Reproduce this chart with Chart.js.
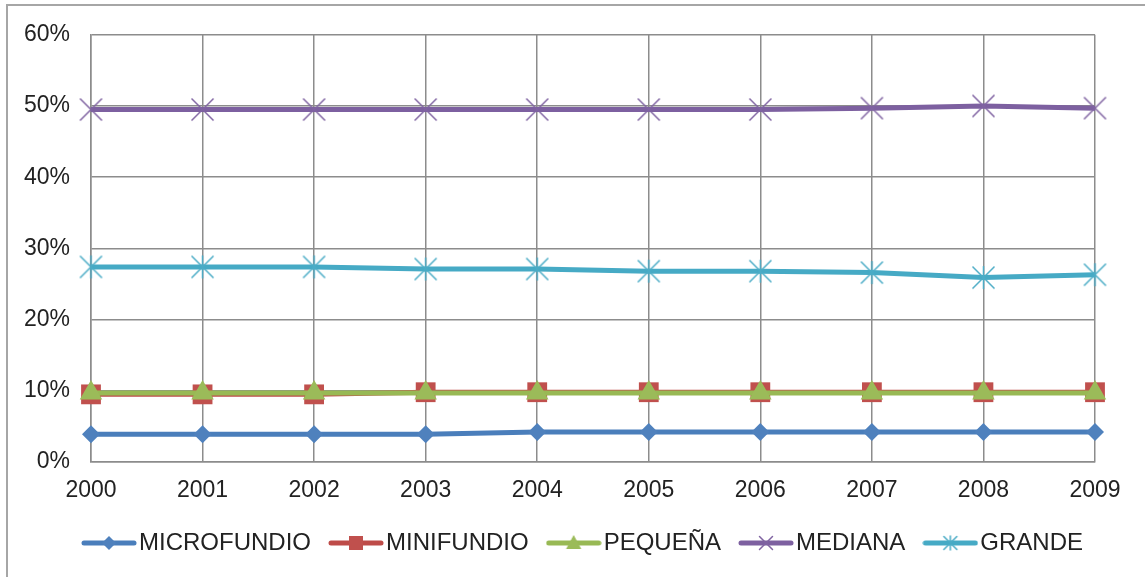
<!DOCTYPE html>
<html>
<head>
<meta charset="utf-8">
<script src="https://cdn.jsdelivr.net/npm/chart.js@4/dist/chart.umd.min.js"></script>
<style>
html,body{margin:0;padding:0;background:#fff;overflow:hidden}
canvas{display:block}
</style>
</head>
<body>
<canvas id="c" width="1145" height="577"></canvas>
<script>
// ---- data ----
const categories = ['2000','2001','2002','2003','2004','2005','2006','2007','2008','2009'];
const microfundio = [3.9, 3.9, 3.9, 3.9, 4.2, 4.2, 4.2, 4.2, 4.2, 4.2];
const minifundio  = [9.5, 9.5, 9.5, 9.8, 9.8, 9.8, 9.8, 9.8, 9.8, 9.8];
const pequena     = [9.7, 9.7, 9.7, 9.7, 9.7, 9.7, 9.7, 9.7, 9.7, 9.7];
const mediana     = [49.5, 49.5, 49.5, 49.5, 49.5, 49.5, 49.5, 49.7, 50.0, 49.7];
const grande      = [27.4, 27.4, 27.4, 27.1, 27.1, 26.8, 26.8, 26.6, 25.9, 26.3];
const seriesNames = ['MICROFUNDIO','MINIFUNDIO','PEQUEÑA','MEDIANA','GRANDE'];
const yTicks = [0, 10, 20, 30, 40, 50, 60];

// ---- styles ----
const lineColors = ['#4A7EBB','#BE4B48','#98B954','#7D60A0','#46AAC5'];
const markColors = ['#4F81BD','#C0504D','#9BBB59','#8064A2','#4BACC6'];
const FONT = "'Liberation Sans', Arial, sans-serif";

function drawMarker(ctx, kind, cx, cy, s, color) {
  ctx.fillStyle = color; ctx.strokeStyle = color;
  ctx.beginPath();
  if (kind === 'diamond') {
    ctx.moveTo(cx - s, cy); ctx.lineTo(cx, cy - s); ctx.lineTo(cx + s, cy); ctx.lineTo(cx, cy + s); ctx.closePath(); ctx.fill();
  } else if (kind === 'square') {
    ctx.rect(cx - s, cy - s, 2 * s, 2 * s); ctx.fill();
  } else if (kind === 'triangle') {
    ctx.moveTo(cx, cy - s); ctx.lineTo(cx + s * 0.95, cy + s * 0.75); ctx.lineTo(cx - s * 0.95, cy + s * 0.75); ctx.closePath(); ctx.fill();
  } else if (kind === 'x' || kind === 'star') {
    ctx.lineWidth = 1.5;
    ctx.moveTo(cx - s, cy - s); ctx.lineTo(cx + s, cy + s);
    ctx.moveTo(cx + s, cy - s); ctx.lineTo(cx - s, cy + s);
    if (kind === 'star') { ctx.moveTo(cx, cy - s - 0.5); ctx.lineTo(cx, cy + s + 0.5); }
    ctx.stroke();
  }
}
function pointImage(kind, color, half) {
  const c = document.createElement('canvas');
  const n = Math.ceil(half * 2 + 3);
  c.width = n; c.height = n;
  drawMarker(c.getContext('2d'), kind, n / 2, n / 2, half, color);
  return c;
}
const markerKinds = ['diamond','square','triangle','x','star'];
const legendHalf = [7, 7, 8, 6.5, 6.5];
function legendImage(i) {
  const c = document.createElement('canvas');
  c.width = 56; c.height = 22;
  const ctx = c.getContext('2d');
  ctx.strokeStyle = lineColors[i]; ctx.lineWidth = 5; ctx.lineCap = 'round';
  ctx.beginPath(); ctx.moveTo(3, 11); ctx.lineTo(53, 11); ctx.stroke();
  drawMarker(ctx, markerKinds[i], 28, 11, legendHalf[i], markColors[i]);
  return c;
}
const legendImgs = [0,1,2,3,4].map(legendImage);

const seriesData = [microfundio, minifundio, pequena, mediana, grande];
const pointStyles = ['rectRot', 'rect', 'triangle', pointImage('x', markColors[3], 11), pointImage('star', markColors[4], 11)];
const pointRadii = [9, 14, 13, 11, 11];

const datasets = seriesData.map((d, i) => ({
  label: seriesNames[i],
  data: d,
  borderColor: lineColors[i],
  backgroundColor: markColors[i],
  borderWidth: 5,
  pointStyle: pointStyles[i],
  pointRadius: pointRadii[i],
  pointBorderWidth: 0,
  pointBackgroundColor: markColors[i],
  pointBorderColor: markColors[i],
  tension: 0,
  clip: false,
  order: 5 - i
}));

const bgPlugin = {
  id: 'bg',
  afterLayout(chart) {
    // shift the legend row so it starts under the plot as in the reference
    if (chart.legend) chart.legend.left = 64;
  },
  beforeDraw(chart) {
    const ctx = chart.ctx;
    ctx.save();
    ctx.fillStyle = '#fff';
    ctx.fillRect(0, 0, chart.width, chart.height);
    ctx.strokeStyle = '#a6a6a6';
    ctx.lineWidth = 2;
    ctx.strokeRect(7, 5, 1300, 800);
    ctx.restore();
  }
};

const gridColor = '#8c8c8c';
new Chart(document.getElementById('c'), {
  type: 'line',
  data: { labels: categories, datasets },
  plugins: [bgPlugin],
  options: {
    responsive: false,
    animation: false,
    devicePixelRatio: 1,
    events: [],
    layout: { padding: { left: 0, right: 0, top: 33, bottom: 12 } },
    plugins: {
      tooltip: { enabled: false },
      legend: {
        position: 'bottom',
        align: 'start',
        labels: {
          usePointStyle: true,
          pointStyleWidth: 36,
          padding: 27,
          color: '#222',
          font: { size: 24, family: FONT },
          generateLabels: (chart) => chart.data.datasets.map((ds, i) => ({
            text: ds.label, pointStyle: legendImgs[i], fillStyle: 'rgba(0,0,0,0)',
            strokeStyle: 'rgba(0,0,0,0)', lineWidth: 0, hidden: false, datasetIndex: i, fontColor: '#222'
          }))
        }
      }
    },
    scales: {
      x: {
        offset: false,
        grid: { color: gridColor, lineWidth: 1.5, drawTicks: false },
        border: { display: true, color: gridColor, width: 1.5 },
        ticks: { color: '#222', font: { size: 23, family: FONT }, padding: 15, maxRotation: 0, autoSkip: false },
        afterFit(s) { s.height = 42; s.paddingRight = 50; }
      },
      y: {
        min: yTicks[0], max: yTicks[yTicks.length - 1],
        afterBuildTicks(s) { s.ticks = yTicks.map(v => ({ value: v })); },
        grid: { color: gridColor, lineWidth: 1.5, drawTicks: false },
        border: { display: true, color: gridColor, width: 1.5 },
        ticks: { color: '#222', font: { size: 23, family: FONT }, padding: 21, callback: v => v + '%' },
        afterFit(s) { s.width = 91; }
      }
    }
  }
});
</script>
</body>
</html>
